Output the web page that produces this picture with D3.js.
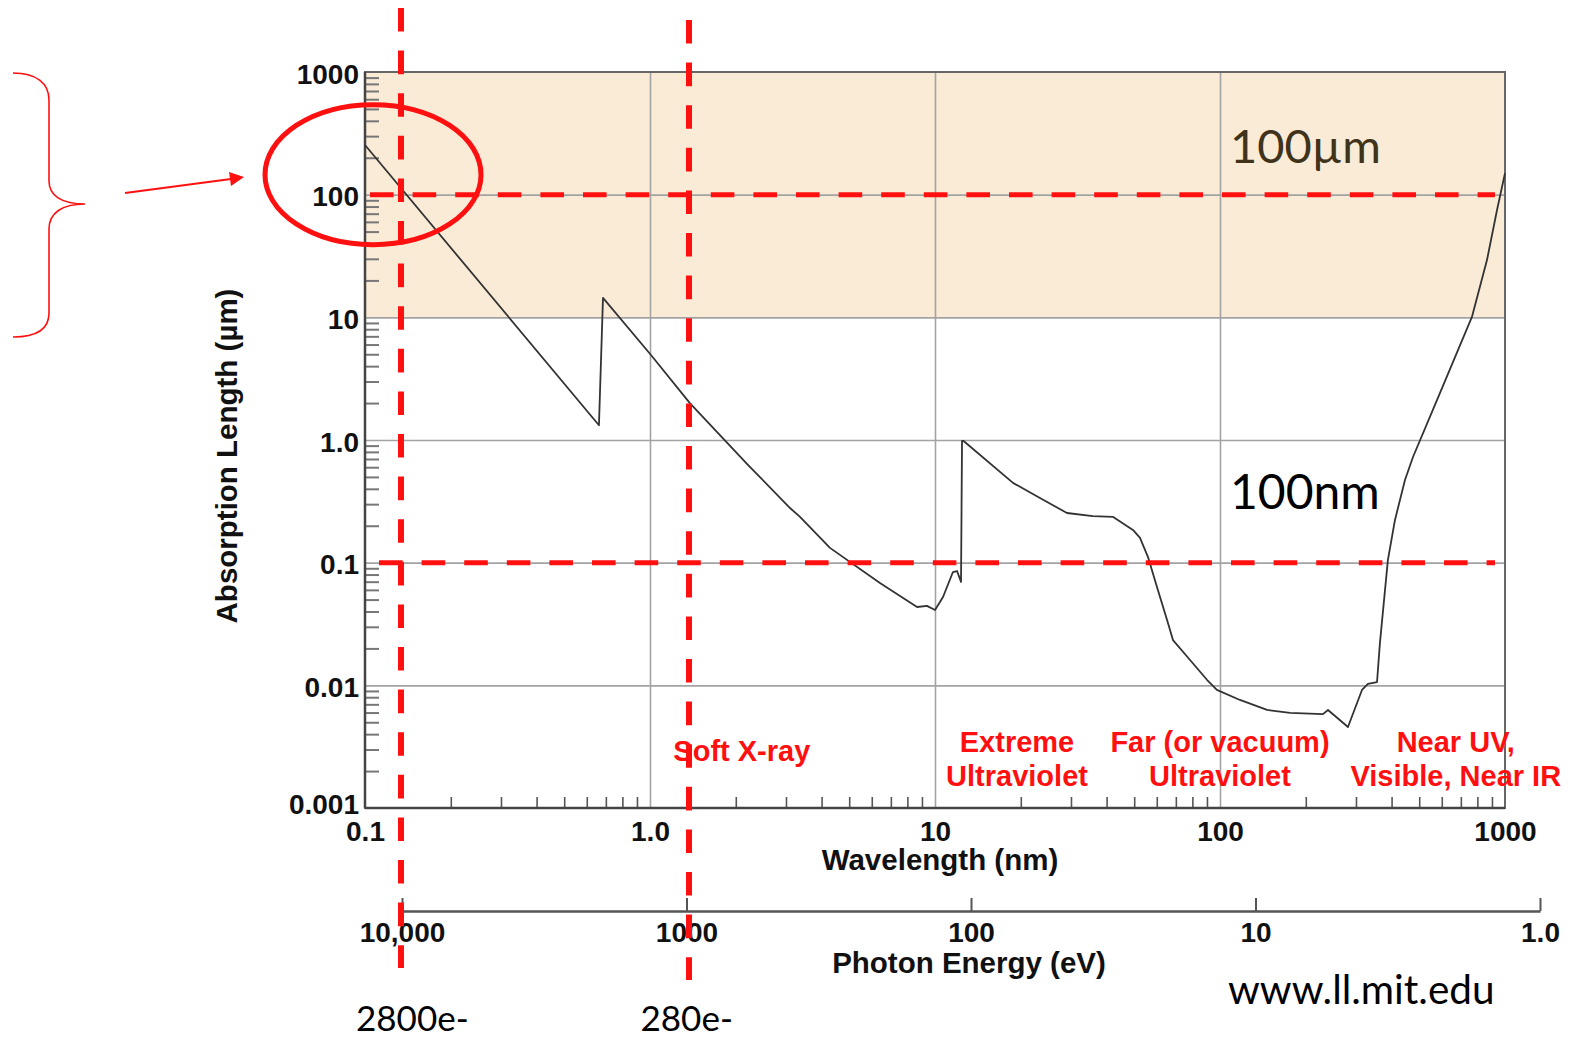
<!DOCTYPE html>
<html><head><meta charset="utf-8">
<script src="https://cdn.jsdelivr.net/npm/d3@7"></script>
<style>
html,body{margin:0;padding:0;background:#fff;}
svg{display:block;}
</style></head><body>
<svg id="chart" width="1570" height="1038"></svg>
<script>
// Absorption length of silicon versus wavelength (curve samples)
const wavelengthNm = [0.1, 0.662, 0.684, 1.008, 1.38, 2.21, 3.10, 3.36, 4.28, 6.41, 8.65, 9.37, 10.0, 10.67, 11.56, 11.95, 12.34, 12.44, 12.6, 18.78, 23.35, 29.04, 35.8, 42.2, 49.5, 52.4, 55.9, 60.1, 65.2, 68.4, 78.5, 90.0, 97.5, 117.5, 146.2, 176.1, 229.7, 239.3, 281.2, 314.9, 330.4, 355.6, 364.0, 388.2, 411.1, 445.7, 475.5, 591.6, 765.6, 864.5, 937.6, 1000];
const absorptionUm = [254, 1.32, 14.4, 4.93, 2.00, 0.625, 0.279, 0.236, 0.132, 0.0683, 0.0435, 0.0444, 0.0411, 0.0525, 0.0839, 0.0855, 0.0697, 0.982, 0.982, 0.447, 0.337, 0.254, 0.240, 0.236, 0.185, 0.159, 0.111, 0.0634, 0.0341, 0.0234, 0.0161, 0.0111, 0.00917, 0.0076, 0.0063, 0.00596, 0.00583, 0.0063, 0.00457, 0.00917, 0.01026, 0.01064, 0.0221, 0.105, 0.223, 0.472, 0.727, 2.42, 10.07, 29.3, 75, 150];

// Axis ticks and labels
const xTicks = [0.1, 1, 10, 100, 1000];
const xTickLabels = ["0.1", "1.0", "10", "100", "1000"];
const yTicks = [0.001, 0.01, 0.1, 1, 10, 100, 1000];
const yTickLabels = ["0.001", "0.01", "0.1", "1.0", "10", "100", "1000"];
const eVTicks = [10000, 1000, 100, 10, 1];
const eVTickLabels = ["10,000", "1000", "100", "10", "1.0"];

// Spectral regions
const regionLines = [["Soft X-ray"], ["Extreme", "Ultraviolet"], ["Far (or vacuum)", "Ultraviolet"], ["Near UV,", "Visible, Near IR"]];
const regionAnchorNm = [2.1, 19.4, 100, 672];

// Reference levels
const markerLengthsUm = [100, 0.1];
const markerEnergiesEv = [10000, 1000];
const markerElectrons = ["2800e-", "280e-"];
const depthLabels = ["100µm", "100nm"];

const svg = d3.select("#chart");
const plot = {left: 365, right: 1505, top: 72, bottom: 808};
const x = d3.scaleLog().domain([0.1, 1000]).range([plot.left, plot.right]);
const y = d3.scaleLog().domain([0.001, 1000]).range([plot.bottom, plot.top]);
const eV = d3.scaleLog().domain([10000, 1]).range([402, 1540]);

const boldFont = "'Liberation Sans', Arial, sans-serif";
const textFont = "Lato, 'Open Sans', sans-serif";

// minor log ticks 2..9 within each decade
function minors(lo, hi) {
  const out = [];
  for (let d = lo; d < hi * 0.999; d *= 10) for (let k = 2; k <= 9; k++) out.push(d * k);
  return out;
}

// shaded band 10 µm – 1000 µm
svg.append("rect")
  .attr("x", plot.left).attr("y", y(1000))
  .attr("width", plot.right - plot.left).attr("height", y(10) - y(1000))
  .attr("fill", "#faebd6");

// grid lines
svg.append("g").attr("transform", `translate(0,${plot.bottom})`)
  .call(d3.axisBottom(x).tickValues([1, 10, 100]).tickSize(-(plot.bottom - plot.top)).tickFormat(""))
  .call(g => g.select(".domain").remove())
  .selectAll("line").attr("stroke", "#a3a3a3").attr("stroke-width", 1.6);
svg.append("g").attr("transform", `translate(${plot.left},0)`)
  .call(d3.axisLeft(y).tickValues([0.01, 0.1, 1, 10, 100]).tickSize(-(plot.right - plot.left)).tickFormat(""))
  .call(g => g.select(".domain").remove())
  .selectAll("line").attr("stroke", "#a3a3a3").attr("stroke-width", 1.6);

// minor ticks inside the frame
svg.append("g").attr("transform", `translate(0,${plot.bottom})`)
  .call(d3.axisBottom(x).tickValues(minors(0.1, 1000)).tickSize(-11).tickFormat(""))
  .call(g => g.select(".domain").remove())
  .selectAll("line").attr("stroke", "#555").attr("stroke-width", 1.6);
svg.append("g").attr("transform", `translate(${plot.left},0)`)
  .call(d3.axisLeft(y).tickValues(minors(0.001, 1000)).tickSize(-14).tickFormat(""))
  .call(g => g.select(".domain").remove())
  .selectAll("line").attr("stroke", "#777").attr("stroke-width", 2);

// frame
svg.append("rect")
  .attr("x", plot.left).attr("y", plot.top)
  .attr("width", plot.right - plot.left).attr("height", plot.bottom - plot.top)
  .attr("fill", "none").attr("stroke", "#666").attr("stroke-width", 2);
svg.append("line").attr("x1", plot.left).attr("x2", plot.left).attr("y1", plot.top).attr("y2", plot.bottom)
  .attr("stroke", "#444").attr("stroke-width", 2.5);
svg.append("line").attr("x1", plot.left).attr("x2", plot.right).attr("y1", plot.bottom).attr("y2", plot.bottom)
  .attr("stroke", "#444").attr("stroke-width", 2.5);

// tick labels
const xLab = svg.append("g").attr("transform", `translate(0,${plot.bottom})`)
  .call(d3.axisBottom(x).tickValues(xTicks).tickSize(0).tickPadding(13).tickFormat((d, i) => xTickLabels[i]));
xLab.select(".domain").remove();
xLab.selectAll("text").attr("font-family", boldFont).attr("font-weight", "bold").attr("font-size", 28).attr("fill", "#111");

const yLab = svg.append("g").attr("transform", `translate(${plot.left},0)`)
  .call(d3.axisLeft(y).tickValues(yTicks).tickSize(0).tickPadding(6).tickFormat((d, i) => yTickLabels[i]));
yLab.select(".domain").remove();
yLab.selectAll("text").attr("font-family", boldFont).attr("font-weight", "bold").attr("font-size", 28)
  .attr("fill", "#111").attr("dy", (d, i) => i === 0 ? "0.2em" : "0.4em");

// axis titles
svg.append("text").attr("x", 940).attr("y", 870).attr("text-anchor", "middle")
  .attr("font-family", boldFont).attr("font-weight", "bold").attr("font-size", 29.5).attr("fill", "#111")
  .text("Wavelength (nm)");
svg.append("text").attr("transform", "translate(237,456) rotate(-90)").attr("text-anchor", "middle")
  .attr("font-family", boldFont).attr("font-weight", "bold").attr("font-size", 29.5).attr("fill", "#111")
  .text("Absorption Length (µm)");

// photon energy axis
const eAx = svg.append("g").attr("transform", "translate(0,911)")
  .call(d3.axisBottom(eV).tickValues(eVTicks).tickSize(-13).tickSizeOuter(0).tickPadding(11)
    .tickFormat((d, i) => eVTickLabels[i]));
eAx.select(".domain").attr("stroke", "#555").attr("stroke-width", 2.5);
eAx.selectAll("line").attr("stroke", "#555").attr("stroke-width", 2);
eAx.selectAll("text").attr("font-family", boldFont).attr("font-weight", "bold").attr("font-size", 28).attr("fill", "#111");
svg.append("text").attr("x", 969).attr("y", 973).attr("text-anchor", "middle")
  .attr("font-family", boldFont).attr("font-weight", "bold").attr("font-size", 29.5).attr("fill", "#111")
  .text("Photon Energy (eV)");

// absorption curve
const line = d3.line().x(d => x(d[0])).y(d => y(d[1]));
svg.append("path")
  .datum(wavelengthNm.map((w, i) => [w, absorptionUm[i]]))
  .attr("d", line).attr("fill", "none").attr("stroke", "#333").attr("stroke-width", 1.8)
  .attr("stroke-linejoin", "round");

// region labels
const red = "#ff1010";
regionLines.forEach((lines, i) => {
  const t = svg.append("text").attr("text-anchor", "middle")
    .attr("font-family", boldFont).attr("font-weight", "bold").attr("font-size", 29).attr("fill", red);
  const base = lines.length === 1 ? 761 : 752;
  lines.forEach((s, j) => t.append("tspan").attr("x", x(regionAnchorNm[i])).attr("y", base + j * 34).text(s));
});

// depth annotations
svg.append("text").attr("x", 1230).attr("y", 163).attr("font-family", textFont).attr("font-size", 47)
  .attr("fill", "#40331b").text(depthLabels[0]);
svg.append("text").attr("x", 1230).attr("y", 509).attr("font-family", textFont).attr("font-size", 48)
  .attr("fill", "#000").text(depthLabels[1]);
svg.append("text").attr("x", 1228).attr("y", 1004).attr("font-family", textFont).attr("font-size", 40.5)
  .attr("fill", "#000").text("www.ll.mit.edu");
markerEnergiesEv.forEach((e, i) => {
  svg.append("text").attr("x", eV(e) - 46).attr("y", 1031)
    .attr("font-family", textFont).attr("font-size", 35).attr("fill", "#000").text(markerElectrons[i]);
});

// dashed reference lines
const dash = "23.6 19";
const hStart = [370, 379];
markerLengthsUm.forEach((v, i) => {
  svg.append("line").attr("x1", hStart[i]).attr("x2", 1495).attr("y1", y(v)).attr("y2", y(v))
    .attr("stroke", red).attr("stroke-width", 5).attr("stroke-dasharray", dash);
});
const vStart = [8, 20];
const vShift = [-1, 2.5];
markerEnergiesEv.forEach((e, i) => {
  const vx = eV(e) + vShift[i];
  svg.append("line").attr("x1", vx).attr("x2", vx).attr("y1", vStart[i]).attr("y2", vStart[i] + 960)
    .attr("stroke", red).attr("stroke-width", 6).attr("stroke-dasharray", dash);
});

// circled range, brace and arrow
svg.append("ellipse").attr("cx", x(0.1) + 8).attr("cy", y(100) - 20).attr("rx", 108).attr("ry", 70)
  .attr("fill", "none").attr("stroke", red).attr("stroke-width", 5);
svg.append("path")
  .attr("d", "M13,73 C36,73 49,83 49,100 L49,181 C49,196 62,204 85,204 C62,204 49,213 49,229 L49,313 C49,329 36,337 13,337")
  .attr("fill", "none").attr("stroke", red).attr("stroke-width", 1.6);
svg.append("line").attr("x1", 125).attr("y1", 193).attr("x2", 231).attr("y2", 179)
  .attr("stroke", red).attr("stroke-width", 2);
svg.append("path").attr("d", "M244,177 L229,172 L231,186 Z").attr("fill", red);
</script>
</body></html>
